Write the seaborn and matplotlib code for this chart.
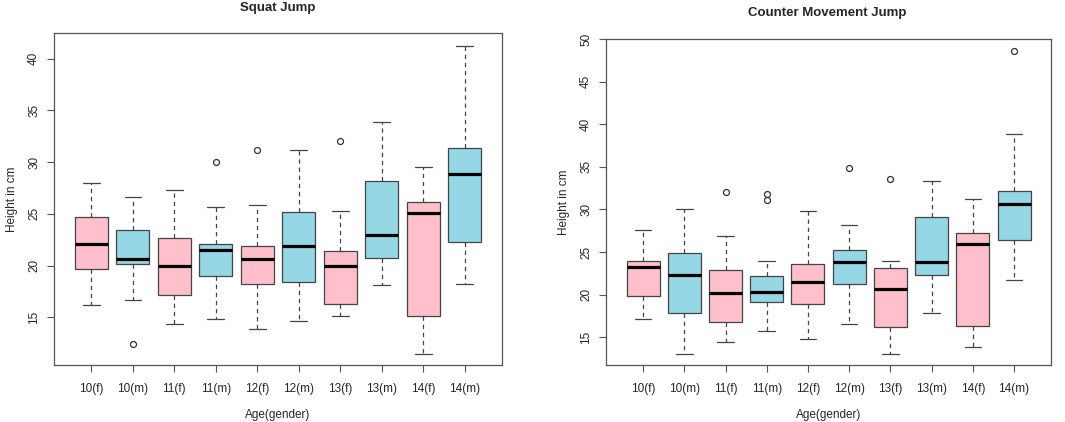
import seaborn as sns
import matplotlib
matplotlib.use("Agg")
import matplotlib.pyplot as plt

# groups on the x axis
groups = ["10(f)", "10(m)", "11(f)", "11(m)", "12(f)", "12(m)", "13(f)", "13(m)", "14(f)", "14(m)"]

# Squat Jump five-number summaries, plus outliers
sj_low = [16.2, 16.7, 14.4, 14.8, 13.9, 14.6, 15.1, 18.1, 11.5, 18.2]
sj_q1 = [19.7, 20.2, 17.2, 19.0, 18.2, 18.4, 16.3, 20.7, 15.1, 22.3]
sj_med = [22.1, 20.6, 20.0, 21.5, 20.6, 21.9, 20.0, 23.0, 25.1, 28.8]
sj_q3 = [24.7, 23.4, 22.7, 22.1, 21.9, 25.2, 21.4, 28.2, 26.1, 31.4]
sj_high = [28.0, 26.6, 27.3, 25.7, 25.9, 31.2, 25.3, 33.9, 29.5, 41.2]
sj_out = [[], [12.4], [], [30.0], [31.2], [], [32.0], [], [], []]

# Counter Movement Jump
cmj_low = [17.2, 13.1, 14.5, 15.7, 14.8, 16.6, 13.1, 17.8, 13.9, 21.7]
cmj_q1 = [19.8, 17.9, 16.8, 19.2, 18.9, 21.2, 16.2, 22.3, 16.3, 26.4]
cmj_med = [23.2, 22.3, 20.2, 20.3, 21.5, 23.8, 20.7, 23.8, 25.9, 30.6]
cmj_q3 = [24.0, 24.9, 22.9, 22.2, 23.6, 25.3, 23.1, 29.1, 27.3, 32.2]
cmj_high = [27.6, 30.1, 26.9, 24.0, 29.8, 28.2, 24.0, 33.4, 31.2, 38.8]
cmj_out = [[], [], [32.1], [31.8, 31.1], [], [34.9], [33.6], [], [], [48.6]]

sns.set_style("white")
plt.rcParams["font.family"] = ["Liberation Sans", "DejaVu Sans"]
pink, blue = "#FFC0CB", "#96D7E5"
fills = [pink if g.endswith("(f)") else blue for g in groups]


def draw(ax, low, q1, med, q3, high, out, title, title_xy, yticks, ylim):
    stats = []
    for i, g in enumerate(groups):
        stats.append(dict(label=g, whislo=low[i], q1=q1[i], med=med[i],
                          q3=q3[i], whishi=high[i], fliers=out[i]))
    bp = ax.bxp(stats, positions=range(1, 11), widths=0.8, patch_artist=True,
                boxprops=dict(edgecolor="#444444", linewidth=0.9),
                whiskerprops=dict(color="#444444", linewidth=0.9, linestyle=(0, (3.5, 3))),
                capprops=dict(color="#444444", linewidth=0.9),
                medianprops=dict(color="black", linewidth=2.3),
                flierprops=dict(marker="o", markerfacecolor="none",
                                markeredgecolor="#333333", markersize=4.3, markeredgewidth=0.9),
                capwidths=0.4)
    for patch, c in zip(bp["boxes"], fills):
        patch.set_facecolor(c)
    ax.set_xlim(0.1, 10.9)
    ax.set_ylim(*ylim)
    ax.set_yticks(yticks)
    ax.set_yticklabels([str(t) for t in yticks], rotation=90, va="center")
    for s in ax.spines.values():
        s.set_color("#555555")
        s.set_linewidth(0.9)
    ax.tick_params(axis="both", direction="out", length=5, width=0.8,
                   color="#555555", labelsize=8.5, left=True, bottom=True)
    ax.tick_params(axis="x", pad=8)
    ax.tick_params(axis="y", pad=5)
    ax.set_xlabel("Age(gender)", fontsize=8.5, labelpad=10)
    ax.set_ylabel("Height in cm", fontsize=8.5, labelpad=7)
    fig.text(title_xy[0], title_xy[1], title, ha="center", va="center",
             fontsize=9.5, fontweight="bold")


fig = plt.figure(figsize=(10.65, 4.22), dpi=100)
ax1 = fig.add_axes([0.0507, 0.135, 0.4207, 0.787])
ax2 = fig.add_axes([0.569, 0.135, 0.418, 0.7725])

draw(ax1, sj_low, sj_q1, sj_med, sj_q3, sj_high, sj_out, "Squat Jump",
     (0.261, 0.980), [15, 20, 25, 30, 35, 40], (10.39, 42.48))
draw(ax2, cmj_low, cmj_q1, cmj_med, cmj_q3, cmj_high, cmj_out, "Counter Movement Jump",
     (0.777, 0.970), [15, 20, 25, 30, 35, 40, 45, 50], (11.75, 50.0))

fig.savefig("out.png", dpi=100)
